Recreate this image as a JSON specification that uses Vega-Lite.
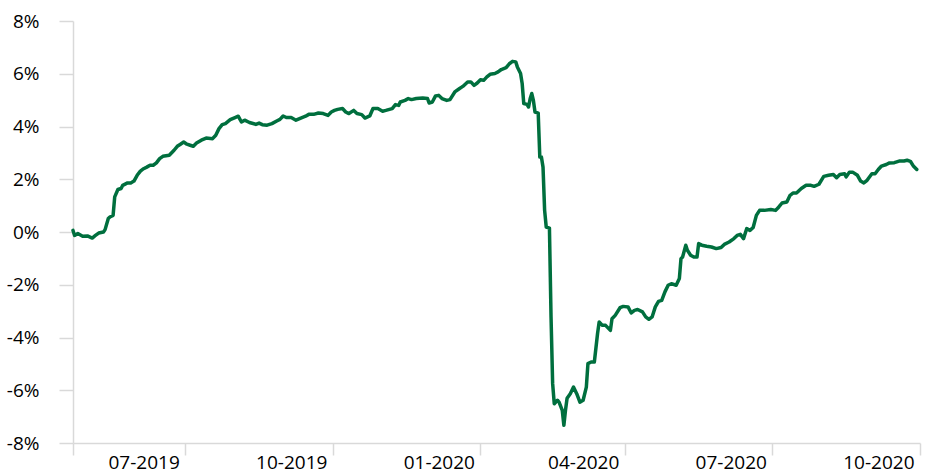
{
  "$schema": "https://vega.github.io/schema/vega-lite/v6.json",
  "autosize": {"type": "none"},
  "padding": {"left": 73, "top": 21, "right": 10, "bottom": 32},
  "width": 847,
  "height": 422,
  "background": "white",
  "config": {"view": {"stroke": null}},
  "data": {"values": [
    {"date":"2019-05-23","value":0.06},{"date":"2019-05-24","value":-0.13},{"date":"2019-05-26","value":-0.06},{"date":"2019-05-29","value":-0.16},
    {"date":"2019-06-01","value":-0.15},{"date":"2019-06-04","value":-0.23},{"date":"2019-06-06","value":-0.13},{"date":"2019-06-08","value":-0.04},
    {"date":"2019-06-11","value":0.00},{"date":"2019-06-12","value":0.09},{"date":"2019-06-14","value":0.51},{"date":"2019-06-15","value":0.57},
    {"date":"2019-06-17","value":0.63},{"date":"2019-06-18","value":1.33},{"date":"2019-06-20","value":1.61},{"date":"2019-06-22","value":1.65},
    {"date":"2019-06-23","value":1.77},{"date":"2019-06-26","value":1.86},{"date":"2019-06-28","value":1.86},{"date":"2019-06-30","value":1.93},
    {"date":"2019-07-02","value":2.15},{"date":"2019-07-04","value":2.31},{"date":"2019-07-06","value":2.40},{"date":"2019-07-08","value":2.46},
    {"date":"2019-07-10","value":2.53},{"date":"2019-07-12","value":2.53},{"date":"2019-07-14","value":2.62},{"date":"2019-07-16","value":2.78},
    {"date":"2019-07-18","value":2.87},{"date":"2019-07-22","value":2.91},{"date":"2019-07-25","value":3.10},{"date":"2019-07-27","value":3.25},
    {"date":"2019-07-29","value":3.33},{"date":"2019-07-31","value":3.41},{"date":"2019-08-02","value":3.33},{"date":"2019-08-04","value":3.29},
    {"date":"2019-08-06","value":3.25},{"date":"2019-08-08","value":3.37},{"date":"2019-08-11","value":3.48},{"date":"2019-08-14","value":3.56},
    {"date":"2019-08-18","value":3.54},{"date":"2019-08-20","value":3.67},{"date":"2019-08-22","value":3.92},{"date":"2019-08-24","value":4.07},
    {"date":"2019-08-26","value":4.11},{"date":"2019-08-29","value":4.26},{"date":"2019-09-01","value":4.34},{"date":"2019-09-03","value":4.39},
    {"date":"2019-09-05","value":4.17},{"date":"2019-09-07","value":4.24},{"date":"2019-09-10","value":4.15},{"date":"2019-09-14","value":4.08},
    {"date":"2019-09-16","value":4.13},{"date":"2019-09-18","value":4.07},{"date":"2019-09-21","value":4.05},{"date":"2019-09-24","value":4.11},
    {"date":"2019-09-27","value":4.21},{"date":"2019-09-29","value":4.27},{"date":"2019-10-01","value":4.40},{"date":"2019-10-03","value":4.34},
    {"date":"2019-10-06","value":4.34},{"date":"2019-10-09","value":4.24},{"date":"2019-10-12","value":4.32},{"date":"2019-10-15","value":4.39},
    {"date":"2019-10-17","value":4.46},{"date":"2019-10-20","value":4.46},{"date":"2019-10-23","value":4.51},{"date":"2019-10-26","value":4.49},
    {"date":"2019-10-29","value":4.42},{"date":"2019-10-31","value":4.55},{"date":"2019-11-02","value":4.61},{"date":"2019-11-04","value":4.65},
    {"date":"2019-11-07","value":4.68},{"date":"2019-11-09","value":4.55},{"date":"2019-11-11","value":4.49},{"date":"2019-11-14","value":4.61},
    {"date":"2019-11-16","value":4.49},{"date":"2019-11-19","value":4.45},{"date":"2019-11-21","value":4.32},{"date":"2019-11-24","value":4.40},
    {"date":"2019-11-26","value":4.68},{"date":"2019-11-29","value":4.68},{"date":"2019-12-02","value":4.58},{"date":"2019-12-04","value":4.61},
    {"date":"2019-12-08","value":4.68},{"date":"2019-12-10","value":4.83},{"date":"2019-12-12","value":4.80},{"date":"2019-12-13","value":4.93},
    {"date":"2019-12-16","value":4.99},{"date":"2019-12-18","value":5.06},{"date":"2019-12-20","value":5.02},{"date":"2019-12-23","value":5.06},
    {"date":"2019-12-27","value":5.08},{"date":"2019-12-30","value":5.06},{"date":"2019-12-31","value":4.89},{"date":"2020-01-02","value":4.93},
    {"date":"2020-01-04","value":5.16},{"date":"2020-01-06","value":5.18},{"date":"2020-01-08","value":5.06},{"date":"2020-01-11","value":4.99},
    {"date":"2020-01-13","value":5.02},{"date":"2020-01-16","value":5.31},{"date":"2020-01-19","value":5.44},{"date":"2020-01-21","value":5.52},
    {"date":"2020-01-24","value":5.69},{"date":"2020-01-26","value":5.69},{"date":"2020-01-28","value":5.56},{"date":"2020-01-30","value":5.65},
    {"date":"2020-02-01","value":5.77},{"date":"2020-02-03","value":5.75},{"date":"2020-02-05","value":5.88},{"date":"2020-02-07","value":5.98},
    {"date":"2020-02-10","value":6.01},{"date":"2020-02-12","value":6.07},{"date":"2020-02-14","value":6.16},{"date":"2020-02-17","value":6.23},
    {"date":"2020-02-19","value":6.38},{"date":"2020-02-21","value":6.47},{"date":"2020-02-23","value":6.45},{"date":"2020-02-24","value":6.26},
    {"date":"2020-02-26","value":6.01},{"date":"2020-02-27","value":5.63},{"date":"2020-02-28","value":4.87},{"date":"2020-03-01","value":4.84},
    {"date":"2020-03-02","value":4.74},{"date":"2020-03-03","value":5.06},{"date":"2020-03-04","value":5.25},{"date":"2020-03-05","value":4.99},
    {"date":"2020-03-06","value":4.55},{"date":"2020-03-08","value":4.51},{"date":"2020-03-09","value":2.84},{"date":"2020-03-10","value":2.84},
    {"date":"2020-03-11","value":2.46},{"date":"2020-03-12","value":0.82},{"date":"2020-03-13","value":0.19},{"date":"2020-03-15","value":0.15},
    {"date":"2020-03-16","value":-3.22},{"date":"2020-03-17","value":-5.75},{"date":"2020-03-18","value":-6.51},{"date":"2020-03-20","value":-6.38},
    {"date":"2020-03-21","value":-6.45},{"date":"2020-03-23","value":-6.76},{"date":"2020-03-24","value":-7.33},{"date":"2020-03-25","value":-6.76},
    {"date":"2020-03-26","value":-6.30},{"date":"2020-03-28","value":-6.13},{"date":"2020-03-30","value":-5.88},{"date":"2020-04-01","value":-6.13},
    {"date":"2020-04-03","value":-6.45},{"date":"2020-04-05","value":-6.38},{"date":"2020-04-07","value":-5.88},{"date":"2020-04-08","value":-4.99},
    {"date":"2020-04-10","value":-4.93},{"date":"2020-04-12","value":-4.93},{"date":"2020-04-14","value":-3.85},{"date":"2020-04-15","value":-3.41},
    {"date":"2020-04-17","value":-3.54},{"date":"2020-04-19","value":-3.54},{"date":"2020-04-22","value":-3.73},{"date":"2020-04-23","value":-3.29},
    {"date":"2020-04-25","value":-3.16},{"date":"2020-04-28","value":-2.87},{"date":"2020-04-30","value":-2.82},{"date":"2020-05-03","value":-2.84},
    {"date":"2020-05-05","value":-3.07},{"date":"2020-05-07","value":-2.97},{"date":"2020-05-09","value":-2.94},{"date":"2020-05-12","value":-3.03},
    {"date":"2020-05-14","value":-3.22},{"date":"2020-05-16","value":-3.31},{"date":"2020-05-18","value":-3.22},{"date":"2020-05-20","value":-2.84},
    {"date":"2020-05-22","value":-2.63},{"date":"2020-05-24","value":-2.59},{"date":"2020-05-26","value":-2.27},{"date":"2020-05-28","value":-2.02},
    {"date":"2020-05-30","value":-1.96},{"date":"2020-06-02","value":-2.02},{"date":"2020-06-04","value":-1.76},{"date":"2020-06-05","value":-1.01},
    {"date":"2020-06-06","value":-0.95},{"date":"2020-06-08","value":-0.50},{"date":"2020-06-09","value":-0.69},{"date":"2020-06-11","value":-0.88},
    {"date":"2020-06-13","value":-0.95},{"date":"2020-06-15","value":-0.95},{"date":"2020-06-16","value":-0.44},{"date":"2020-06-18","value":-0.50},
    {"date":"2020-06-21","value":-0.54},{"date":"2020-06-24","value":-0.57},{"date":"2020-06-27","value":-0.63},{"date":"2020-06-30","value":-0.59},
    {"date":"2020-07-02","value":-0.47},{"date":"2020-07-05","value":-0.38},{"date":"2020-07-08","value":-0.25},{"date":"2020-07-10","value":-0.13},
    {"date":"2020-07-12","value":-0.09},{"date":"2020-07-14","value":-0.25},{"date":"2020-07-16","value":0.13},{"date":"2020-07-18","value":0.06},
    {"date":"2020-07-20","value":0.17},{"date":"2020-07-22","value":0.63},{"date":"2020-07-24","value":0.82},{"date":"2020-07-27","value":0.82},
    {"date":"2020-07-31","value":0.85},{"date":"2020-08-03","value":0.82},{"date":"2020-08-05","value":0.95},{"date":"2020-08-07","value":1.10},
    {"date":"2020-08-10","value":1.14},{"date":"2020-08-12","value":1.39},{"date":"2020-08-14","value":1.48},{"date":"2020-08-16","value":1.48},
    {"date":"2020-08-19","value":1.65},{"date":"2020-08-22","value":1.77},{"date":"2020-08-25","value":1.77},{"date":"2020-08-27","value":1.73},
    {"date":"2020-08-30","value":1.81},{"date":"2020-09-02","value":2.11},{"date":"2020-09-05","value":2.15},{"date":"2020-09-08","value":2.18},
    {"date":"2020-09-10","value":2.06},{"date":"2020-09-12","value":2.18},{"date":"2020-09-15","value":2.21},{"date":"2020-09-16","value":2.09},
    {"date":"2020-09-18","value":2.27},{"date":"2020-09-20","value":2.27},{"date":"2020-09-23","value":2.15},{"date":"2020-09-25","value":1.93},
    {"date":"2020-09-27","value":1.86},{"date":"2020-09-29","value":1.96},{"date":"2020-10-02","value":2.21},{"date":"2020-10-04","value":2.21},
    {"date":"2020-10-06","value":2.37},{"date":"2020-10-08","value":2.50},{"date":"2020-10-11","value":2.56},{"date":"2020-10-13","value":2.62},
    {"date":"2020-10-16","value":2.63},{"date":"2020-10-19","value":2.69},{"date":"2020-10-22","value":2.69},{"date":"2020-10-24","value":2.72},
    {"date":"2020-10-26","value":2.68},{"date":"2020-10-28","value":2.49},{"date":"2020-10-30","value":2.37}
  ]},
  "mark": {"type": "line", "color": "#006F3E", "strokeWidth": 3.5, "strokeJoin": "round", "strokeCap": "round"},
  "encoding": {
    "x": {
      "field": "date", "type": "temporal",
      "scale": {"type": "utc", "domain": [{"year": 2019, "month": 5, "date": 23, "utc": true}, {"year": 2020, "month": 11, "date": 1, "utc": true}]},
      "axis": {
        "title": null,
        "grid": false,
        "values": [
          {"year": 2019, "month": 5, "date": 23, "utc": true},
          {"year": 2019, "month": 8, "date": 1, "utc": true},
          {"year": 2019, "month": 11, "date": 1, "utc": true},
          {"year": 2020, "month": 2, "date": 1, "utc": true},
          {"year": 2020, "month": 5, "date": 1, "utc": true},
          {"year": 2020, "month": 8, "date": 1, "utc": true},
          {"year": 2020, "month": 11, "date": 1, "utc": true}
        ],
        "labelExpr": "(utcyear(datum.value) == 2019 && utcmonth(datum.value) == 4) ? '' : utcFormat(utcOffset('month', datum.value, -1), '%m-%Y')",
        "labelAlign": "right",
        "labelBaseline": "alphabetic",
        "labelOffset": -6,
        "labelPadding": 13,
        "labelFlush": false,
        "labelOverlap": false,
        "labelFont": "Open Sans",
        "labelFontSize": 19,
        "labelColor": "#000000",
        "domainColor": "#d9d9d9",
        "domainWidth": 1.5,
        "tickColor": "#d9d9d9",
        "tickWidth": 1.5,
        "tickSize": 12
      }
    },
    "y": {
      "field": "value", "type": "quantitative",
      "scale": {"domain": [-8, 8], "nice": false, "zero": false},
      "axis": {
        "title": null,
        "grid": false,
        "values": [-8, -6, -4, -2, 0, 2, 4, 6, 8],
        "labelExpr": "datum.value + '%'",
        "labelPadding": 20,
        "labelFont": "Open Sans",
        "labelFontSize": 19,
        "labelColor": "#000000",
        "domainColor": "#d9d9d9",
        "domainWidth": 1.5,
        "tickColor": "#d9d9d9",
        "tickWidth": 1.5,
        "tickSize": 14
      }
    }
  }
}
